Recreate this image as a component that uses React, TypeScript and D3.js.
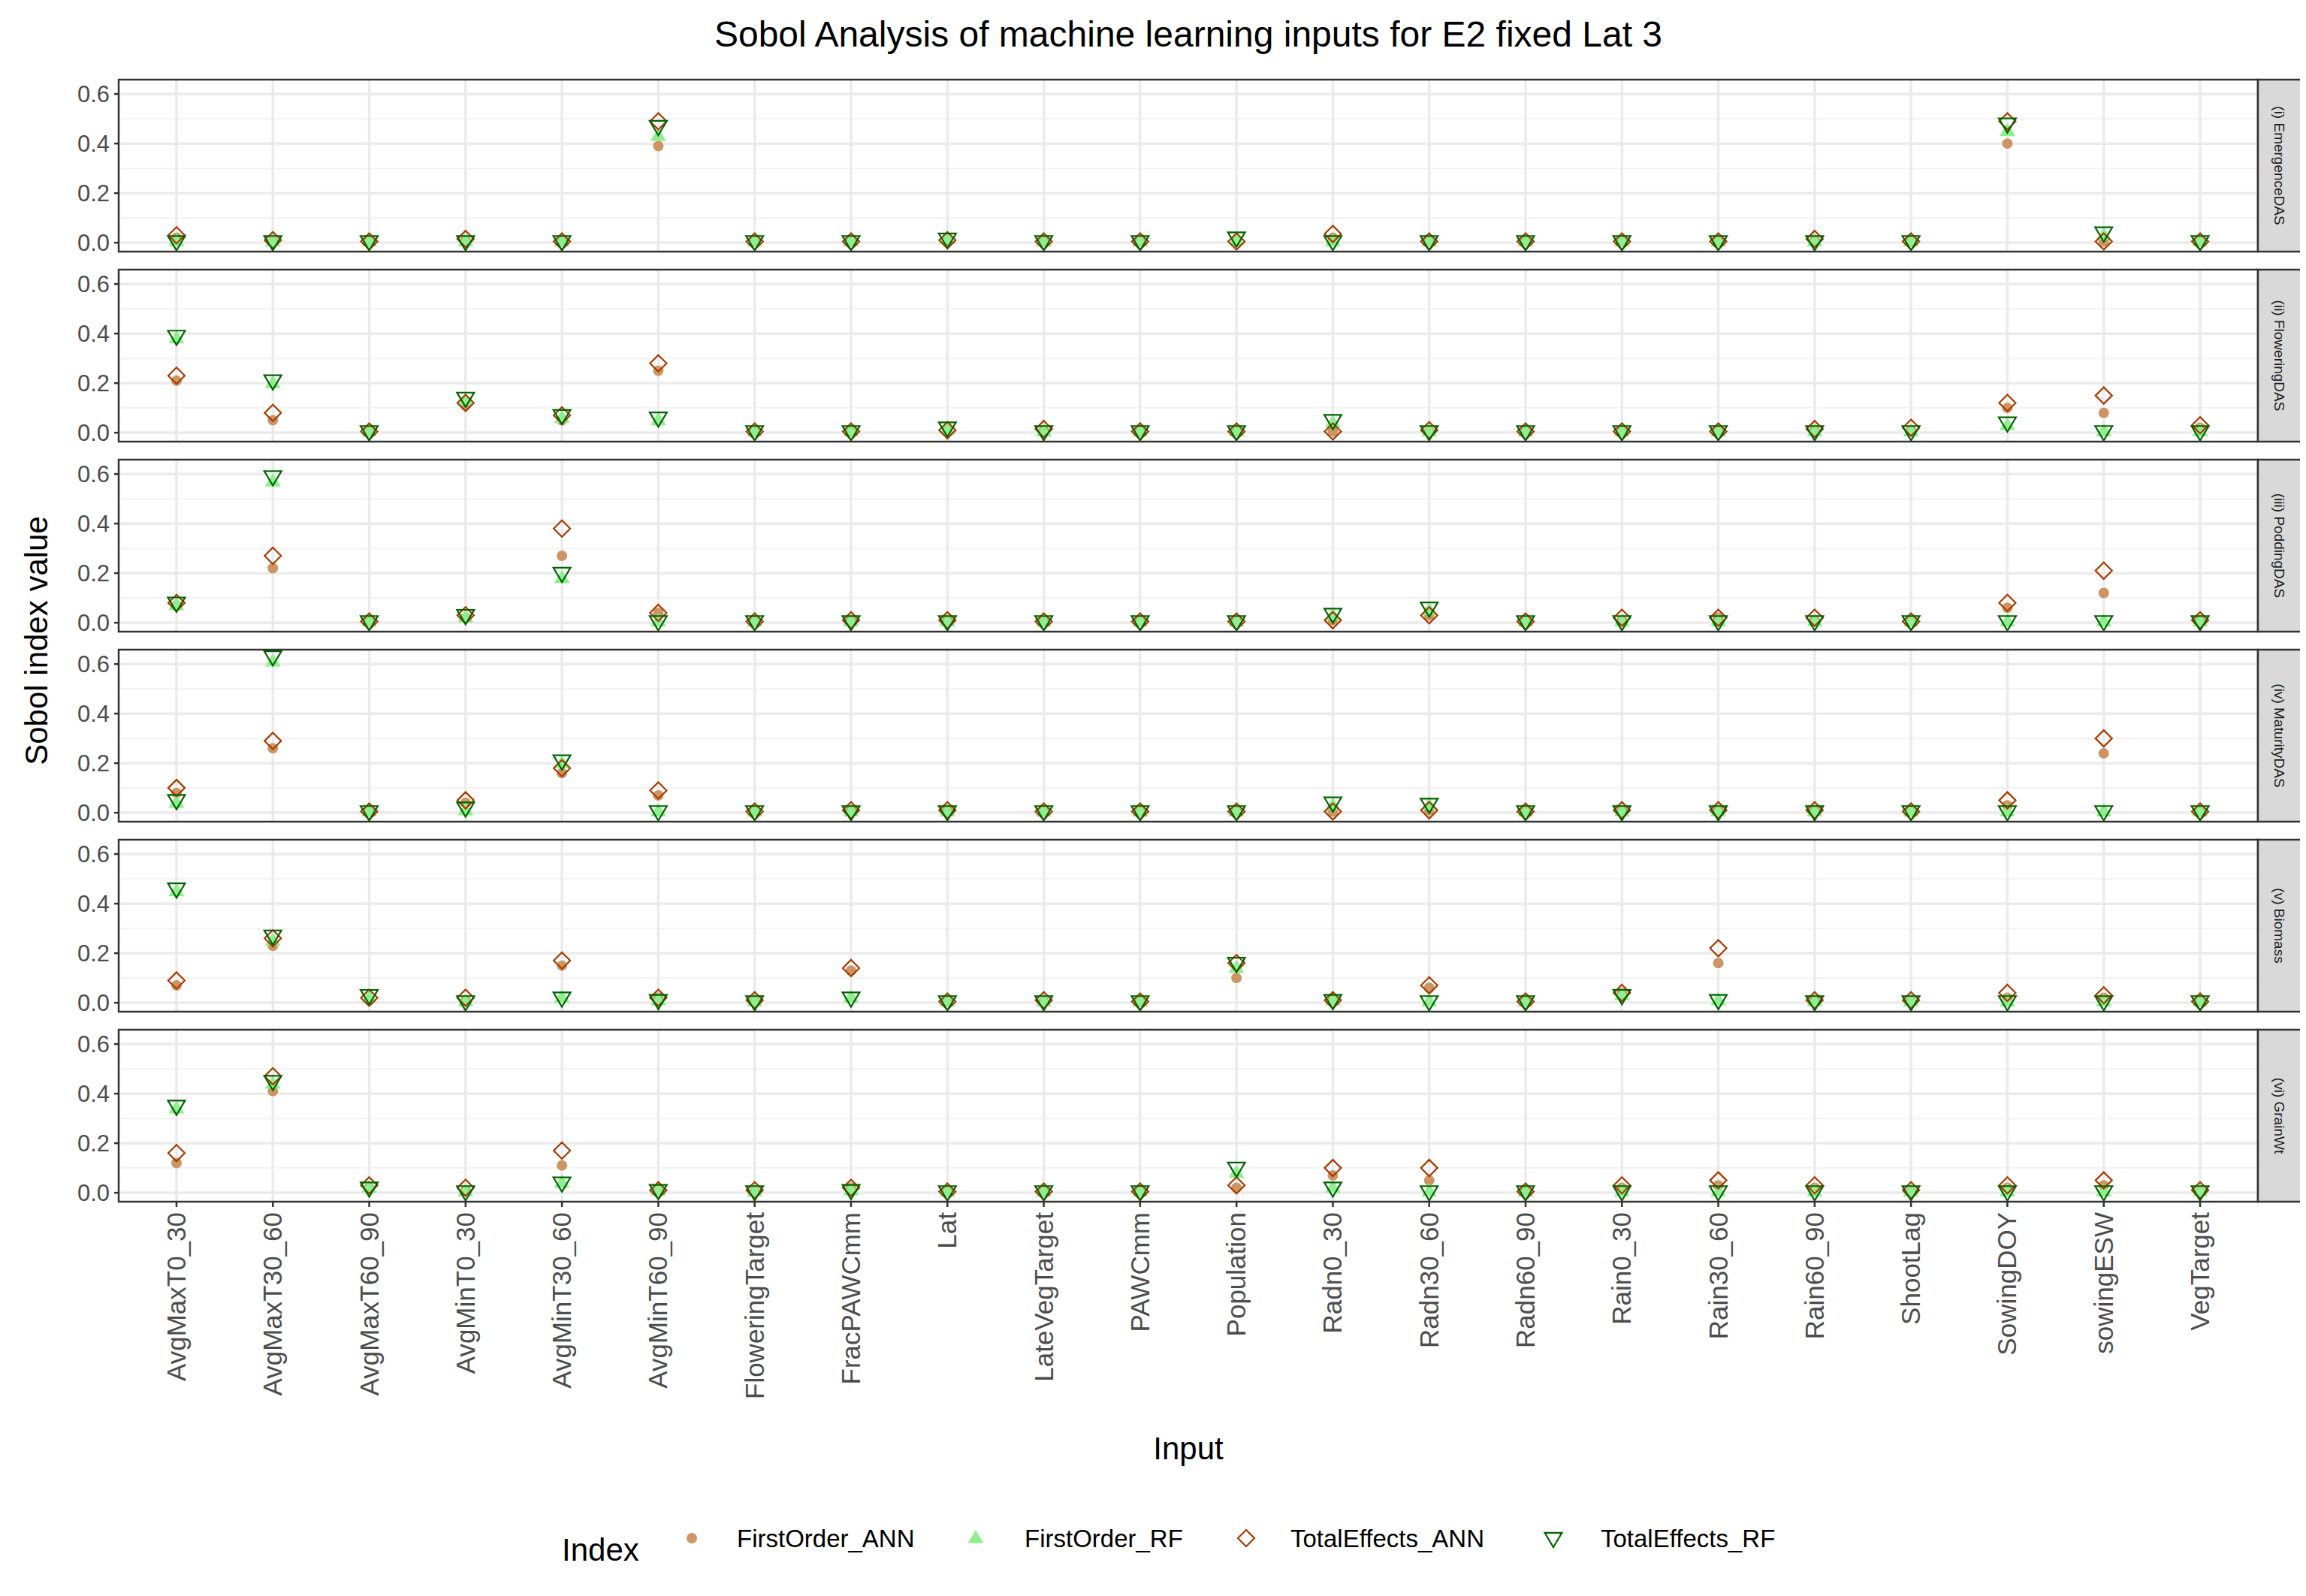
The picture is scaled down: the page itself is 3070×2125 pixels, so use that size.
import * as d3 from 'd3';

const inputs = ['AvgMaxT0_30', 'AvgMaxT30_60', 'AvgMaxT60_90', 'AvgMinT0_30', 'AvgMinT30_60', 'AvgMinT60_90', 'FloweringTarget', 'FracPAWCmm', 'Lat', 'LateVegTarget', 'PAWCmm', 'Population', 'Radn0_30', 'Radn30_60', 'Radn60_90', 'Rain0_30', 'Rain30_60', 'Rain60_90', 'ShootLag', 'SowingDOY', 'sowingESW', 'VegTarget'];
const panels = ['(i) EmergenceDAS', '(ii) FloweringDAS', '(iii) PoddingDAS', '(iv) MaturityDAS', '(v) Biomass', '(vi) GrainWt'];
const yTicks = [0, 0.2, 0.4, 0.6];
const yMinor = [0.1, 0.3, 0.5];

// per panel, one value per input
const firstOrderANN = [
  [0.02, 0.005, 0.005, 0.01, 0.005, 0.39, 0.005, 0.005, 0.01, 0.005, 0.005, 0.005, 0.02, 0.005, 0.005, 0.005, 0.005, 0.01, 0.005, 0.40, 0.005, 0.005],
  [0.21, 0.05, 0.005, 0.11, 0.05, 0.25, 0.005, 0.005, 0.01, 0.01, 0.005, 0.005, 0.005, 0.005, 0.005, 0.005, 0.005, 0.01, 0.01, 0.10, 0.08, 0.02],
  [0.07, 0.22, 0.005, 0.02, 0.27, 0.04, 0.005, 0.01, 0.01, 0.005, 0.005, 0.005, 0.01, 0.03, 0.005, 0.01, 0.02, 0.01, 0.005, 0.06, 0.12, 0.01],
  [0.08, 0.26, 0.005, 0.04, 0.16, 0.07, 0.005, 0.01, 0.01, 0.005, 0.005, 0.005, 0.005, 0.01, 0.005, 0.01, 0.01, 0.01, 0.005, 0.03, 0.24, 0.005],
  [0.07, 0.23, 0.01, 0.01, 0.15, 0.02, 0.005, 0.13, 0.005, 0.005, 0.005, 0.10, 0.01, 0.06, 0.005, 0.04, 0.16, 0.01, 0.005, 0.02, 0.02, 0.005],
  [0.12, 0.41, 0.02, 0.01, 0.11, 0.01, 0.005, 0.02, 0.005, 0.005, 0.005, 0.02, 0.07, 0.05, 0.005, 0.02, 0.03, 0.02, 0.005, 0.02, 0.03, 0.005],
];
const firstOrderRF = [
  [0.005, 0.005, 0.005, 0.005, 0.005, 0.43, 0.005, 0.005, 0.015, 0.005, 0.005, 0.01, 0.005, 0.005, 0.005, 0.005, 0.005, 0.005, 0.005, 0.45, 0.03, 0.005],
  [0.38, 0.20, 0.005, 0.13, 0.06, 0.05, 0.005, 0.005, 0.015, 0.005, 0.005, 0.005, 0.04, 0.005, 0.005, 0.005, 0.005, 0.005, 0.005, 0.03, 0.005, 0.005],
  [0.07, 0.57, 0.005, 0.02, 0.18, 0.005, 0.005, 0.005, 0.005, 0.005, 0.005, 0.005, 0.03, 0.05, 0.005, 0.005, 0.005, 0.005, 0.005, 0.005, 0.005, 0.005],
  [0.04, 0.61, 0.005, 0.01, 0.20, 0.005, 0.005, 0.005, 0.005, 0.005, 0.005, 0.005, 0.03, 0.03, 0.005, 0.005, 0.005, 0.005, 0.005, 0.005, 0.005, 0.005],
  [0.45, 0.25, 0.02, 0.005, 0.02, 0.01, 0.005, 0.02, 0.005, 0.005, 0.005, 0.14, 0.01, 0.005, 0.005, 0.03, 0.01, 0.005, 0.005, 0.005, 0.005, 0.005],
  [0.34, 0.44, 0.02, 0.005, 0.04, 0.01, 0.005, 0.01, 0.005, 0.005, 0.005, 0.08, 0.02, 0.005, 0.005, 0.005, 0.005, 0.005, 0.005, 0.005, 0.005, 0.005],
];
const totalANN = [
  [0.03, 0.01, 0.005, 0.015, 0.005, 0.49, 0.005, 0.005, 0.01, 0.005, 0.005, 0.005, 0.035, 0.005, 0.005, 0.005, 0.005, 0.015, 0.005, 0.49, 0.005, 0.005],
  [0.23, 0.08, 0.005, 0.12, 0.07, 0.28, 0.005, 0.005, 0.01, 0.015, 0.005, 0.005, 0.005, 0.01, 0.005, 0.005, 0.005, 0.015, 0.02, 0.12, 0.15, 0.03],
  [0.08, 0.27, 0.005, 0.03, 0.38, 0.04, 0.005, 0.01, 0.01, 0.005, 0.005, 0.005, 0.01, 0.03, 0.005, 0.02, 0.02, 0.02, 0.005, 0.08, 0.21, 0.01],
  [0.10, 0.29, 0.005, 0.05, 0.18, 0.09, 0.005, 0.01, 0.01, 0.005, 0.005, 0.005, 0.005, 0.01, 0.005, 0.01, 0.01, 0.01, 0.005, 0.05, 0.30, 0.005],
  [0.09, 0.26, 0.02, 0.02, 0.17, 0.02, 0.01, 0.14, 0.005, 0.01, 0.005, 0.16, 0.01, 0.07, 0.005, 0.04, 0.22, 0.01, 0.01, 0.04, 0.03, 0.005],
  [0.16, 0.47, 0.03, 0.02, 0.17, 0.01, 0.01, 0.02, 0.005, 0.005, 0.005, 0.03, 0.10, 0.10, 0.005, 0.03, 0.05, 0.03, 0.01, 0.03, 0.05, 0.01],
];
const totalRF = [
  [0.005, 0.005, 0.005, 0.005, 0.005, 0.47, 0.005, 0.005, 0.015, 0.005, 0.005, 0.02, 0.005, 0.005, 0.005, 0.005, 0.005, 0.005, 0.005, 0.48, 0.04, 0.005],
  [0.39, 0.21, 0.005, 0.14, 0.07, 0.06, 0.005, 0.005, 0.02, 0.005, 0.005, 0.005, 0.05, 0.005, 0.005, 0.005, 0.005, 0.005, 0.005, 0.04, 0.005, 0.005],
  [0.08, 0.59, 0.005, 0.03, 0.20, 0.005, 0.005, 0.005, 0.005, 0.005, 0.005, 0.005, 0.035, 0.06, 0.005, 0.005, 0.005, 0.005, 0.005, 0.005, 0.005, 0.005],
  [0.05, 0.63, 0.005, 0.02, 0.21, 0.005, 0.005, 0.005, 0.005, 0.005, 0.005, 0.005, 0.04, 0.035, 0.005, 0.005, 0.005, 0.005, 0.005, 0.005, 0.005, 0.005],
  [0.46, 0.27, 0.03, 0.005, 0.02, 0.01, 0.005, 0.02, 0.005, 0.005, 0.005, 0.16, 0.01, 0.005, 0.005, 0.03, 0.01, 0.005, 0.005, 0.005, 0.005, 0.005],
  [0.35, 0.45, 0.02, 0.005, 0.04, 0.01, 0.005, 0.01, 0.005, 0.005, 0.005, 0.10, 0.02, 0.005, 0.005, 0.005, 0.005, 0.005, 0.005, 0.005, 0.005, 0.005],
];

const series = [
  { name: 'FirstOrder_ANN', data: firstOrderANN, shape: 'circle' },
  { name: 'FirstOrder_RF', data: firstOrderRF, shape: 'tri' },
  { name: 'TotalEffects_ANN', data: totalANN, shape: 'diamond' },
  { name: 'TotalEffects_RF', data: totalRF, shape: 'down' },
];

const W = 3070;
const H = 2125;
const left = 150;
const right = 2998;
const stripW = 58;
const top0 = 98;
const panelH = 229;
const panelStep = 253;
const font = 'Liberation Sans, Arial, sans-serif';

function Marker({ shape, x, y }: { shape: string; x: number; y: number }) {
  if (shape === 'circle') return <circle cx={x} cy={y} r={7} fill="#CD9564" />;
  if (shape === 'tri') {
    const r = 11;
    return <path d={`M${x},${y - r}L${x + r * 0.95},${y + r * 0.6}L${x - r * 0.95},${y + r * 0.6}Z`} fill="#90EE90" />;
  }
  if (shape === 'diamond') {
    const r = 11;
    return <path d={`M${x},${y - r}L${x + r},${y}L${x},${y + r}L${x - r},${y}Z`} fill="none" stroke="#A63A00" strokeWidth={2.2} />;
  }
  const r = 12;
  return <path d={`M${x},${y + r}L${x + r * 0.95},${y - r * 0.6}L${x - r * 0.95},${y - r * 0.6}Z`} fill="none" stroke="#006400" strokeWidth={2.2} />;
}

export default function App() {
  const x = d3.scalePoint<string>().domain(inputs).range([left, right]).padding(0.6);
  const plotBottom = top0 + 5 * panelStep + panelH;
  const legendItems = [
    { x: 913, tx: 973 },
    { x: 1291, tx: 1356 },
    { x: 1651, tx: 1710 },
    { x: 2060, tx: 2123 },
  ];
  return (
    <svg width={W} height={H} style={{ display: 'block', background: '#fff', fontFamily: font }}>
      <rect width={W} height={H} fill="#fff" />
      <text x={(left + right) / 2} y={54} textAnchor="middle" fontSize={48} fill="#000">
        Sobol Analysis of machine learning inputs for E2 fixed Lat 3
      </text>
      {panels.map((p, pi) => {
        const t = top0 + pi * panelStep;
        const y = d3.scaleLinear().domain([-0.036, 0.658]).range([t + panelH, t]);
        return (
          <g key={p}>
            <rect x={left} y={t} width={right - left} height={panelH} fill="#fff" />
            {yMinor.map((v) => (
              <line key={v} x1={left} x2={right} y1={y(v)} y2={y(v)} stroke="#F2F2F2" strokeWidth={2} />
            ))}
            {yTicks.map((v) => (
              <line key={v} x1={left} x2={right} y1={y(v)} y2={y(v)} stroke="#EBEBEB" strokeWidth={3.5} />
            ))}
            {inputs.map((c) => (
              <line key={c} x1={x(c)} x2={x(c)} y1={t} y2={t + panelH} stroke="#EBEBEB" strokeWidth={3.5} />
            ))}
            {series.map((s) =>
              inputs.map((c, i) => <Marker key={s.name + c} shape={s.shape} x={x(c)!} y={y(s.data[pi][i])} />)
            )}
            <rect x={left} y={t} width={right - left} height={panelH} fill="none" stroke="#333" strokeWidth={2.5} />
            {yTicks.map((v) => (
              <g key={v}>
                <line x1={left - 6} x2={left} y1={y(v)} y2={y(v)} stroke="#333" strokeWidth={2.5} />
                <text x={left - 12} y={y(v)} dy="0.35em" textAnchor="end" fontSize={31} fill="#4D4D4D">
                  {d3.format('.1f')(v)}
                </text>
              </g>
            ))}
            <rect x={right} y={t} width={stripW} height={panelH} fill="#D9D9D9" stroke="#333" strokeWidth={2.5} />
            <text
              transform={`translate(${right + stripW / 2},${t + panelH / 2}) rotate(90)`}
              textAnchor="middle"
              dy="0.35em"
              fontSize={19}
              fill="#1A1A1A"
            >
              {p}
            </text>
          </g>
        );
      })}
      {inputs.map((c) => (
        <g key={c}>
          <line x1={x(c)} x2={x(c)} y1={plotBottom} y2={plotBottom + 7} stroke="#333" strokeWidth={2.5} />
          <text
            transform={`translate(${x(c)! + 12},${plotBottom + 14}) rotate(-90)`}
            textAnchor="end"
            fontSize={35}
            fill="#4D4D4D"
          >
            {c}
          </text>
        </g>
      ))}
      <text x={(left + right) / 2} y={1935} textAnchor="middle" fontSize={42} fill="#000">Input</text>
      <text
        transform={`translate(55,${(top0 + plotBottom) / 2}) rotate(-90)`}
        textAnchor="middle"
        fontSize={42}
        fill="#000"
      >
        Sobol index value
      </text>
      <text x={740} y={2055} dy="0.35em" fontSize={42} fill="#000">Index</text>
      {series.map((s, i) => (
        <g key={s.name}>
          <Marker shape={s.shape} x={legendItems[i].x} y={2040} />
          <text x={legendItems[i].tx} y={2040} dy="0.35em" fontSize={33} fill="#000">{s.name}</text>
        </g>
      ))}
    </svg>
  );
}
